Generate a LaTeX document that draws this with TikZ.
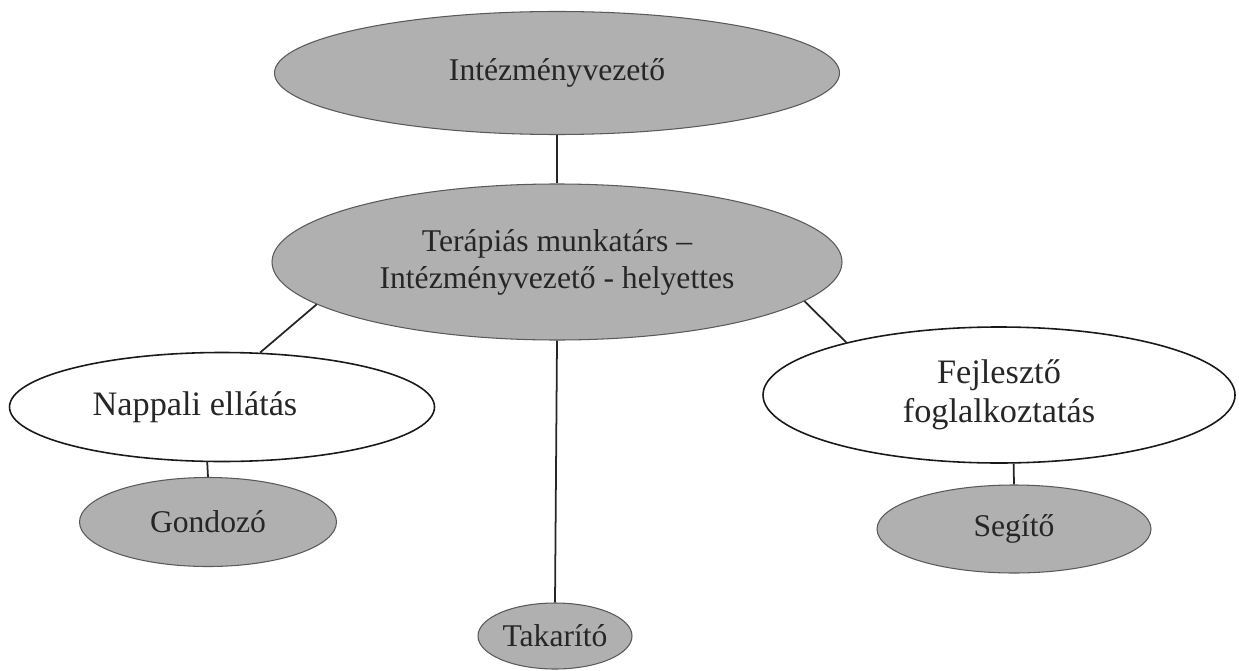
\documentclass[tikz,border=0pt]{standalone}
\usepackage{fontspec}
\setmainfont{Liberation Serif}
\usetikzlibrary{shapes.geometric}

\begin{document}
\begin{tikzpicture}[
    grayell/.style={ellipse,draw=black!65,line width=0.6,fill=black!31,inner sep=0,
        text=black!85,align=center,font=\fontsize{18}{21}\selectfont},
    whiteell/.style={ellipse,draw=black!90,line width=0.9,fill=white,inner sep=0,
        text=black!85,align=center,font=\fontsize{19.5}{22}\selectfont},
    link/.style={line width=1,black!85}
]
    \useasboundingbox (0,0) rectangle (24.78,-13.4);
    \coordinate (top) at (11.14,-1.46);
    \coordinate (mid) at (11.14,-5.24);
    \coordinate (left) at (4.44,-8.14);
    \coordinate (right) at (19.98,-7.9);
    % gray boxes
    \node[grayell,minimum width=11.3cm,minimum height=2.46cm] (vezeto) at (top) {Intézményvezető};
    \node[grayell,minimum width=11.4cm,minimum height=3.12cm] (helyettes) at (mid)
        {Terápiás munkatárs –\\Intézményvezető - helyettes};
    \node[grayell,minimum width=5.14cm,minimum height=1.78cm] (gondozo) at (4.16,-10.44) {Gondozó};
    \node[grayell,minimum width=5.48cm,minimum height=1.76cm] (segito) at (20.28,-10.58) {Segítő};
    \node[grayell,minimum width=3.08cm,minimum height=1.32cm] (takarito) at (11.1,-12.72) {Takarító};
    % white boxes
    \node[whiteell,minimum width=8.5cm,minimum height=2.18cm] (nappali) at (left)
        {Nappali ellátás\hspace{1.08cm}};
    \node[whiteell,minimum width=9.44cm,minimum height=2.72cm] (fejleszto) at (right)
        {Fejlesztő\\foglalkoztatás};
    % lines
    \draw[link] (vezeto.south) -- (helyettes.north);
    \draw[link] (helyettes.190) -- (nappali.55);
    \draw[link] (helyettes.-9.5) -- (fejleszto.161);
    \draw[link] (helyettes.south) -- (takarito.north);
    \draw[link] (nappali.255) -- (gondozo.north);
    \draw[link] (fejleszto.282) -- (segito.north);
\end{tikzpicture}
\end{document}
